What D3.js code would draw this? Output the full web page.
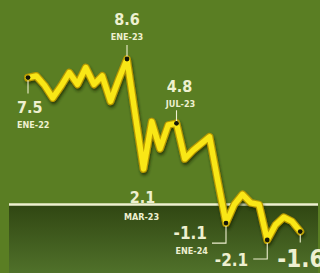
<!DOCTYPE html>
<html>
<head>
<meta charset="utf-8">
<script src="https://cdn.jsdelivr.net/npm/d3@7"></script>
<style>
  html, body { margin: 0; padding: 0; background: #5a7e23; overflow: hidden; }
  svg { display: block; }
</style>
</head>
<body>
<div id="chart"></div>
<script>
// meses ENE-22 .. OCT-24
const months = [
  "ENE-22","FEB-22","MAR-22","ABR-22","MAY-22","JUN-22","JUL-22","AGO-22","SEP-22","OCT-22","NOV-22","DIC-22",
  "ENE-23","FEB-23","MAR-23","ABR-23","MAY-23","JUN-23","JUL-23","AGO-23","SEP-23","OCT-23","NOV-23","DIC-23",
  "ENE-24","FEB-24","MAR-24","ABR-24","MAY-24","JUN-24","JUL-24","AGO-24","SEP-24","OCT-24"
];
const values = [
  7.5, 7.6, 7.05, 6.3, 7.0, 7.8, 7.1, 8.1, 7.1, 7.6, 6.1, 7.4,
  8.6, 5.3, 2.1, 4.9, 3.3, 4.7, 4.8, 2.7, 3.2, 3.6, 4.0, 1.4,
  -1.1, 0.0, 0.6, 0.1, 0.0, -2.1, -1.2, -0.75, -1.0, -1.6
];
// meses anotados y su etiqueta de valor
const marked = ["ENE-22", "ENE-23", "JUL-23", "ENE-24", "JUN-24", "OCT-24"];
const valueLabels = ["7.5", "8.6", "4.8", "-1.1", "-2.1", "-1.6", "2.1"];
const baseValue = 0;

const width = 320, height = 273;
const cream = "#eef0d0";
const font = "'DejaVu Sans Condensed', 'Liberation Sans Narrow', sans-serif";

const data = months.map((m, i) => ({ m: m, i: i, v: values[i] }));

const svg = d3.select("#chart")
  .append("svg")
    .attr("width", width)
    .attr("height", height);

const x = d3.scaleLinear()
  .domain([0, months.length - 1])
  .range([28, 300.25]);

const y = d3.scaleLinear()
  .domain([-2.1, 8.6])
  .range([240, 59]);

const defs = svg.append("defs");

const grad = defs.append("linearGradient")
    .attr("id", "dark")
    .attr("x1", 0).attr("y1", 0).attr("x2", 0).attr("y2", 1);
grad.append("stop").attr("offset", "0%").attr("stop-color", "#304612");
grad.append("stop").attr("offset", "100%").attr("stop-color", "#50712a");

const shadow = defs.append("filter")
    .attr("id", "shadow")
    .attr("x", "-10%").attr("y", "-10%")
    .attr("width", "120%").attr("height", "130%");
shadow.append("feDropShadow")
    .attr("dx", 1).attr("dy", 2.5)
    .attr("stdDeviation", 1.6)
    .attr("flood-color", "#1c2806")
    .attr("flood-opacity", 0.75);

// Zona oscura bajo la línea base
svg.append("rect")
  .attr("x", 9)
  .attr("y", y(baseValue))
  .attr("width", 309)
  .attr("height", height - y(baseValue))
  .attr("fill", "url(#dark)");

// Línea base
svg.append("line")
  .attr("x1", 9).attr("x2", 318)
  .attr("y1", y(baseValue)).attr("y2", y(baseValue))
  .attr("stroke", cream)
  .attr("stroke-width", 2.5);

// Serie
const line = d3.line()
  .x(d => x(d.i))
  .y(d => y(d.v));

const g = svg.append("g").attr("filter", "url(#shadow)");

g.append("path")
  .datum(data)
  .attr("d", line)
  .attr("fill", "none")
  .attr("stroke", "#b89a05")
  .attr("stroke-width", 7.8)
  .attr("stroke-linejoin", "round")
  .attr("stroke-linecap", "round");

g.append("path")
  .datum(data)
  .attr("d", line)
  .attr("fill", "none")
  .attr("stroke", "#f9e714")
  .attr("stroke-width", 5.4)
  .attr("stroke-linejoin", "round")
  .attr("stroke-linecap", "round");

const pts = data.filter(d => marked.includes(d.m));

// Conectores
const lk = svg.append("g")
  .attr("fill", "none")
  .attr("stroke", cream)
  .attr("stroke-width", 1.1);

function px(d) { return x(d.i); }
function py(d) { return y(d.v); }

const p = {};
pts.forEach(d => { p[d.m] = d; });

lk.append("path").attr("d", `M${px(p["ENE-22"])},${py(p["ENE-22"]) + 3}V${py(p["ENE-22"]) + 16}`);
lk.append("path").attr("d", `M${px(p["ENE-23"])},${py(p["ENE-23"]) - 14}V${py(p["ENE-23"]) - 2}`);
lk.append("path").attr("d", `M${px(p["JUL-23"])},${py(p["JUL-23"]) - 13}V${py(p["JUL-23"]) - 2}`);
lk.append("path").attr("d", `M${px(p["ENE-24"])},${py(p["ENE-24"]) + 3}V${py(p["ENE-24"]) + 20}H${px(p["ENE-24"]) - 14}`);
lk.append("path").attr("d", `M${px(p["JUN-24"])},${py(p["JUN-24"]) + 3}V${py(p["JUN-24"]) + 19}H${px(p["JUN-24"]) - 14}`);
lk.append("path").attr("d", `M${px(p["OCT-24"])},${py(p["OCT-24"]) + 3}V${py(p["OCT-24"]) + 11}`);

// Puntos
svg.append("g")
  .selectAll("circle")
  .data(pts)
  .enter()
  .append("circle")
    .attr("cx", d => x(d.i))
    .attr("cy", d => y(d.v))
    .attr("r", 2.4)
    .attr("fill", "#15160a");

// Etiquetas
function label(tx, ty, txt, size, anchor, weight) {
  svg.append("text")
    .attr("x", tx)
    .attr("y", ty)
    .attr("text-anchor", anchor)
    .style("font-family", font)
    .style("font-size", size + "px")
    .style("font-weight", weight || "bold")
    .style("fill", cream)
    .text(txt);
}

const d0 = p["ENE-22"], d1 = p["ENE-23"], d2 = p["JUL-23"],
      d3_ = p["ENE-24"], d4 = p["JUN-24"], d5 = p["OCT-24"];

label(px(d0) - 11, py(d0) + 35.5, valueLabels[0], 16, "start");
label(px(d0) - 11, py(d0) + 50.5, d0.m, 9, "start");

label(px(d1), py(d1) - 34, valueLabels[1], 16, "middle");
label(px(d1), py(d1) - 19, d1.m, 9, "middle");

label(px(d2) + 3, py(d2) - 31, valueLabels[2], 16, "middle");
label(px(d2) + 4, py(d2) - 16, d2.m, 9, "middle");

const dm = data[14];
label(x(dm.i) - 1, y(baseValue) - 1.5, valueLabels[6], 16, "middle");
label(x(dm.i) - 2, y(baseValue) + 15.5, dm.m, 9, "middle");

label(px(d3_) - 19, py(d3_) + 16, valueLabels[3], 17, "end");
label(px(d3_) - 18, py(d3_) + 31, d3_.m, 9, "end");

label(px(d4) - 19, py(d4) + 26, valueLabels[4], 17, "end");
label(px(d4) - 35, py(d4) + 41, d4.m, 9, "middle");

label(px(d5) - 23, py(d5) + 35, valueLabels[5], 24, "start");
label(px(d5), py(d5) + 50, d5.m, 9, "middle");
</script>
</body>
</html>
